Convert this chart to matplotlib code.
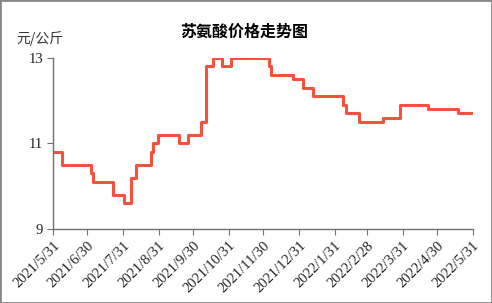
import matplotlib
matplotlib.use('Agg')
import matplotlib.pyplot as plt
from matplotlib.patches import Rectangle
import datetime as dt

plt.rcParams['font.family'] = ['Noto Sans CJK SC', 'DejaVu Sans']

# step changes: date the price switched to, price (元/公斤)
change_dates = ['2021-05-31', '2021-06-08', '2021-07-03', '2021-07-05', '2021-07-22',
                '2021-08-01', '2021-08-07', '2021-08-11', '2021-08-24', '2021-08-26',
                '2021-08-30', '2021-09-18', '2021-09-25', '2021-10-07', '2021-10-11',
                '2021-10-17', '2021-10-25', '2021-11-02', '2021-12-05', '2021-12-07',
                '2021-12-26', '2022-01-03', '2022-01-12', '2022-02-07', '2022-02-10',
                '2022-02-21', '2022-03-14', '2022-03-29', '2022-04-22', '2022-05-18',
                '2022-05-30']
prices = [10.8, 10.5, 10.3, 10.1, 9.8,
          9.6, 10.2, 10.5, 10.8, 11.0,
          11.2, 11.0, 11.2, 11.5, 12.8,
          13.0, 12.8, 13.0, 12.8, 12.6,
          12.5, 12.3, 12.1, 11.9, 11.7,
          11.5, 11.6, 11.9, 11.8, 11.7,
          11.7]

tick_dates = ['2021-05-31', '2021-06-30', '2021-07-31', '2021-08-31', '2021-09-30',
              '2021-10-31', '2021-11-30', '2021-12-31', '2022-01-31', '2022-02-28',
              '2022-03-31', '2022-04-30', '2022-05-31']
y_ticks = [9, 11, 13]

dates = [dt.datetime.strptime(d, '%Y-%m-%d') for d in change_dates]
ticks = [dt.datetime.strptime(d, '%Y-%m-%d') for d in tick_dates]
tick_labels = [f'{d.year}/{d.month}/{d.day}' for d in ticks]

fig = plt.figure(figsize=(4.92, 3.03), dpi=100)
ax = fig.add_axes([0.1077, 0.2442, 0.8531, 0.5654])

ax.step(dates, prices, where='post', color='#f4513f', linewidth=2.2)

ax.set_xlim(ticks[0], ticks[-1])
ax.set_ylim(9, 13)
ax.set_xticks(ticks)
ax.set_xticklabels(tick_labels, rotation=45, ha='right', rotation_mode='anchor',
                   family='Liberation Serif', fontsize=10.5, color='#222222')
ax.set_yticks(y_ticks)
ax.set_yticklabels([str(v) for v in y_ticks], family='Liberation Serif', fontsize=10.5,
                   color='#222222')

for s in ['top', 'right']:
    ax.spines[s].set_visible(False)
for s in ['left', 'bottom']:
    ax.spines[s].set_color('#707070')
    ax.spines[s].set_linewidth(1.0)
ax.tick_params(axis='both', direction='out', length=4, color='#707070', pad=3)

fig.text(0.497, 0.895, '苏氨酸价格走势图', ha='center', va='center',
         fontsize=11.5, fontweight='bold')
fig.text(0.081, 0.872, '元/公斤', ha='center', va='center', fontsize=10, color='#333333')

fig.patches.append(Rectangle((0, 0), 1, 1, transform=fig.transFigure, fill=False,
                             edgecolor='#888888', linewidth=2))

fig.savefig('out.png', dpi=100)
